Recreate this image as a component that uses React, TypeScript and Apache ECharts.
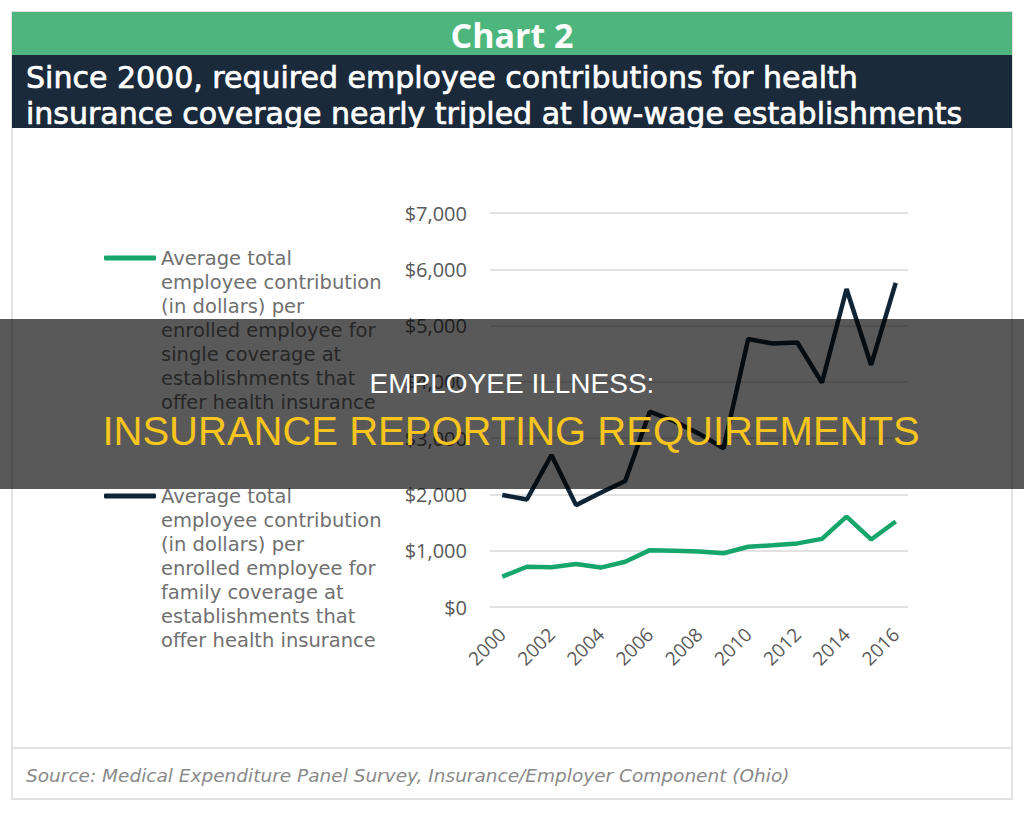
import React, { useEffect, useRef } from "react";
import * as echarts from "echarts";

const years = ["2000","2001","2002","2003","2004","2005","2006","2007","2008","2009","2010","2011","2012","2013","2014","2015","2016"];
const singleValues = [540, 715, 705, 765, 700, 805, 1010, 1000, 985, 955, 1070, 1095, 1130, 1210, 1605, 1200, 1520];
const familyValues = [1990, 1910, 2700, 1810, 2030, 2240, 3470, 3300, 3080, 2820, 4760, 4680, 4700, 3985, 5650, 4300, 5760];
const yTicks = [0, 1000, 2000, 3000, 4000, 5000, 6000, 7000];

const headerTitle = "Chart 2";
const subtitleLines = [
  "Since 2000, required employee contributions for health",
  "insurance coverage nearly tripled at low-wage establishments",
];
const singleLabelLines = ["Average total", "employee contribution", "(in dollars) per", "enrolled employee for", "single coverage at", "establishments that", "offer health insurance"];
const familyLabelLines = ["Average total", "employee contribution", "(in dollars) per", "enrolled employee for", "family coverage at", "establishments that", "offer health insurance"];
const sourceText = "Source: Medical Expenditure Panel Survey, Insurance/Employer Component (Ohio)";
const overlayLine1 = "EMPLOYEE ILLNESS:";
const overlayLine2 = "INSURANCE REPORTING REQUIREMENTS";

const GREEN = "#16a56b";
const NAVY = "#0f2536";

// leading blank lines keep the legend's icon level with the first text line
const topAligned = (lines: string[]) => "\n".repeat(lines.length - 1) + lines.join("\n");

export default function App() {
  const ref = useRef<HTMLDivElement>(null);
  useEffect(() => {
    if (!ref.current) return;
    const chart = echarts.init(ref.current, undefined, { renderer: "svg" });
    const legendText = {
      fontFamily: "DejaVu Sans",
      fontSize: 19.5,
      lineHeight: 24,
      color: "#707070",
    };
    const legendBase = {
      orient: "vertical",
      left: 104,
      icon: "roundRect",
      itemWidth: 52,
      itemHeight: 5,
      itemGap: 0,
      padding: 0,
      selectedMode: false,
      textStyle: legendText,
    };
    chart.setOption({
      animation: false,
      backgroundColor: "#ffffff",
      grid: { left: 490, right: 116, top: 213, bottom: 215, containLabel: false },
      xAxis: {
        type: "category",
        data: years,
        boundaryGap: true,
        axisLine: { show: false },
        axisTick: { show: false },
        axisLabel: {
          interval: 1,
          rotate: 45,
          margin: 24,
          fontFamily: "Open Sans",
          fontSize: 19,
          color: "#595959",
        },
      },
      yAxis: {
        type: "value",
        min: 0,
        max: 7000,
        interval: 1000,
        axisLine: { show: false },
        axisTick: { show: false },
        splitLine: { lineStyle: { color: "#d9d9d9", width: 1.5 } },
        axisLabel: {
          margin: 23,
          fontFamily: "Open Sans",
          fontSize: 20,
          color: "#595959",
          formatter: (v: number) => (yTicks.includes(v) ? "$" + v.toLocaleString("en-US") : ""),
        },
      },
      legend: [
        {
          ...legendBase,
          data: ["single"],
          top: 258 - 156,
          formatter: () => topAligned(singleLabelLines),
        },
        {
          ...legendBase,
          data: ["family"],
          top: 496 - 156,
          formatter: () => topAligned(familyLabelLines),
        },
      ],
      series: [
        {
          name: "single",
          type: "line",
          data: singleValues,
          showSymbol: false,
          symbol: "none",
          lineStyle: { color: GREEN, width: 4.5 },
          itemStyle: { color: GREEN },
          z: 3,
        },
        {
          name: "family",
          type: "line",
          data: familyValues,
          showSymbol: false,
          symbol: "none",
          lineStyle: { color: NAVY, width: 4.5 },
          itemStyle: { color: NAVY },
          z: 3,
        },
      ],
      graphic: [
        {
          type: "rect",
          z: -1,
          shape: { x: 12, y: 12, width: 1000, height: 787 },
          style: { fill: "#ffffff", stroke: "#e2e2e2", lineWidth: 2 },
          silent: true,
        },
        {
          type: "line",
          z: 0,
          shape: { x1: 12, y1: 748, x2: 1012, y2: 748 },
          style: { stroke: "#e2e2e2", lineWidth: 2 },
          silent: true,
        },
        {
          type: "rect",
          z: 0,
          shape: { x: 12, y: 12, width: 1000, height: 43 },
          style: { fill: "#4db67d" },
          silent: true,
        },
        {
          type: "rect",
          z: 0,
          shape: { x: 12, y: 55, width: 1000, height: 73 },
          style: { fill: "#1b2a3b" },
          silent: true,
        },
        {
          type: "text",
          z: 1,
          x: 512,
          y: 35,
          style: {
            text: headerTitle,
            fill: "#ffffff",
            fontFamily: "Open Sans",
            fontWeight: "bold",
            fontSize: 34,
            align: "center",
            verticalAlign: "middle",
            textAlign: "center",
            textVerticalAlign: "middle",
          },
          silent: true,
        },
        ...subtitleLines.map((t, i) => ({
          type: "text",
          z: 1,
          x: 26,
          y: 77 + i * 36,
          style: {
            text: t,
            fill: "#ffffff",
            stroke: "#ffffff",
            lineWidth: 0.7,
            fontFamily: "DejaVu Sans",
            fontSize: 30,
            align: "left",
            verticalAlign: "middle",
            textAlign: "left",
            textVerticalAlign: "middle",
          },
          silent: true,
        })),
        {
          type: "text",
          z: 1,
          x: 26,
          y: 775,
          style: {
            text: sourceText,
            fill: "#8a8a8a",
            fontFamily: "DejaVu Sans",
            fontStyle: "italic",
            fontSize: 18.5,
            align: "left",
            verticalAlign: "middle",
            textAlign: "left",
            textVerticalAlign: "middle",
          },
          silent: true,
        },
        {
          type: "rect",
          z: 100,
          shape: { x: 0, y: 319, width: 1024, height: 170 },
          style: { fill: "rgba(0,0,0,0.65)" },
          silent: true,
        },
        {
          type: "text",
          z: 101,
          x: 512,
          y: 383,
          style: {
            text: overlayLine1,
            fill: "#ffffff",
            fontFamily: "Liberation Sans",
            fontSize: 28,
            align: "center",
            verticalAlign: "middle",
            textAlign: "center",
            textVerticalAlign: "middle",
          },
          silent: true,
        },
        {
          type: "text",
          z: 101,
          x: 511,
          y: 431,
          style: {
            text: overlayLine2,
            fill: "#f7c51e",
            fontFamily: "Liberation Sans",
            fontSize: 40,
            align: "center",
            verticalAlign: "middle",
            textAlign: "center",
            textVerticalAlign: "middle",
          },
          silent: true,
        },
      ],
    });
    return () => chart.dispose();
  }, []);
  return (
    <div
      ref={ref}
      style={{ position: "absolute", left: 0, top: 0, width: 1024, height: 822 }}
    />
  );
}
